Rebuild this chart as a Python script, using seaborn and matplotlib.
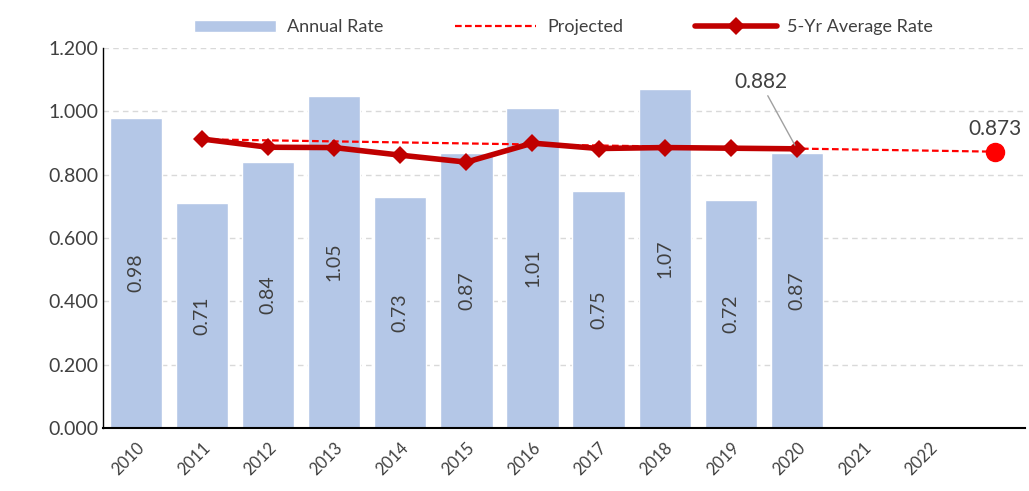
import matplotlib
matplotlib.use("Agg")
import matplotlib.pyplot as plt
import seaborn as sns
import pandas as pd

years = ["2010", "2011", "2012", "2013", "2014", "2015", "2016", "2017", "2018", "2019", "2020", "2021", "2022", "2023"]
tick_labels = ["2010", "2011", "2012", "2013", "2014", "2015", "2016", "2017", "2018", "2019", "2020", "2021", "2022", ""]
annual = [0.98, 0.71, 0.84, 1.05, 0.73, 0.87, 1.01, 0.75, 1.07, 0.72, 0.87]
avg_years = ["2011", "2012", "2013", "2014", "2015", "2016", "2017", "2018", "2019", "2020"]
avg5 = [0.913, 0.887, 0.886, 0.862, 0.840, 0.900, 0.883, 0.886, 0.884, 0.882]
proj_years = ["2011", "2023"]
projected = [0.912, 0.873]

sns.set_style("white")
plt.rcParams["font.family"] = ["Lato", "DejaVu Sans"]
text_col = "#404040"

fig = plt.figure(figsize=(10.29, 4.91), dpi=100)
ax = fig.add_axes([0.1, 0.128, 0.896, 0.774])

bars = pd.DataFrame({"year": years[:len(annual)], "rate": annual})
sns.barplot(data=bars, x="year", y="rate", order=years, color="#B4C7E7",
            saturation=1, width=0.79, ax=ax, label="Annual Rate")

pos = {y: i for i, y in enumerate(years)}
sns.lineplot(x=[pos[y] for y in proj_years], y=projected, color="#FF0000",
             linestyle=(0, (3, 1.5)), linewidth=1.6, ax=ax, label="Projected")
sns.lineplot(x=[pos[y] for y in avg_years], y=avg5, color="#C00000",
             linewidth=4, marker="D", markersize=9, markeredgewidth=0,
             ax=ax, label="5-Yr Average Rate")
ax.plot(pos[proj_years[-1]], projected[-1], "o", color="#FF0000", markersize=13)

for i, v in enumerate(annual):
    ax.text(i, v / 2, f"{v:.2f}", rotation=90, ha="center", va="center",
            fontsize=14, color=text_col)

ax.annotate(f"{avg5[-1]:.3f}", xy=(pos[avg_years[-1]], avg5[-1]),
            xytext=(pos[avg_years[-1]] - 0.55, 1.06), ha="center", va="bottom",
            fontsize=15, color=text_col,
            arrowprops=dict(arrowstyle="-", color="#A0A0A0", lw=1, shrinkA=0, shrinkB=3))
ax.text(pos[proj_years[-1]], projected[-1] + 0.04, f"{projected[-1]:.3f}",
        ha="center", va="bottom", fontsize=15, color=text_col)

ax.set_xlim(-0.5, 13.45)
ax.set_ylim(0, 1.2)
ax.set_yticks([0, 0.2, 0.4, 0.6, 0.8, 1.0, 1.2])
ax.set_yticklabels([f"{t:.3f}" for t in ax.get_yticks()], fontsize=14, color=text_col)
ax.set_xticks(range(len(years)))
ax.set_xticklabels(tick_labels, rotation=45, ha="right", rotation_mode="anchor",
                   fontsize=12, color=text_col)
ax.tick_params(axis="both", length=0)
ax.tick_params(axis="x", pad=8)
ax.set_xlabel("")
ax.set_ylabel("")
ax.grid(axis="y", color="#D9D9D9", linestyle=(0, (4, 3)), linewidth=1)
ax.set_axisbelow(True)
for s in ["top", "right"]:
    ax.spines[s].set_visible(False)
ax.spines["left"].set_color("black")
ax.spines["left"].set_linewidth(1)
ax.spines["bottom"].set_color("black")
ax.spines["bottom"].set_linewidth(1.5)

handles, labels = ax.get_legend_handles_labels()
order = [labels.index(n) for n in ["Annual Rate", "Projected", "5-Yr Average Rate"]]
ax.legend([handles[i] for i in order], [labels[i] for i in order],
          loc="lower center", bbox_to_anchor=(0.5, 1.0), ncol=3, frameon=False,
          fontsize=13, handlelength=4.5, handletextpad=0.6, columnspacing=4,
          labelcolor=text_col, borderaxespad=0.3)

fig.savefig("out.png", dpi=100)
